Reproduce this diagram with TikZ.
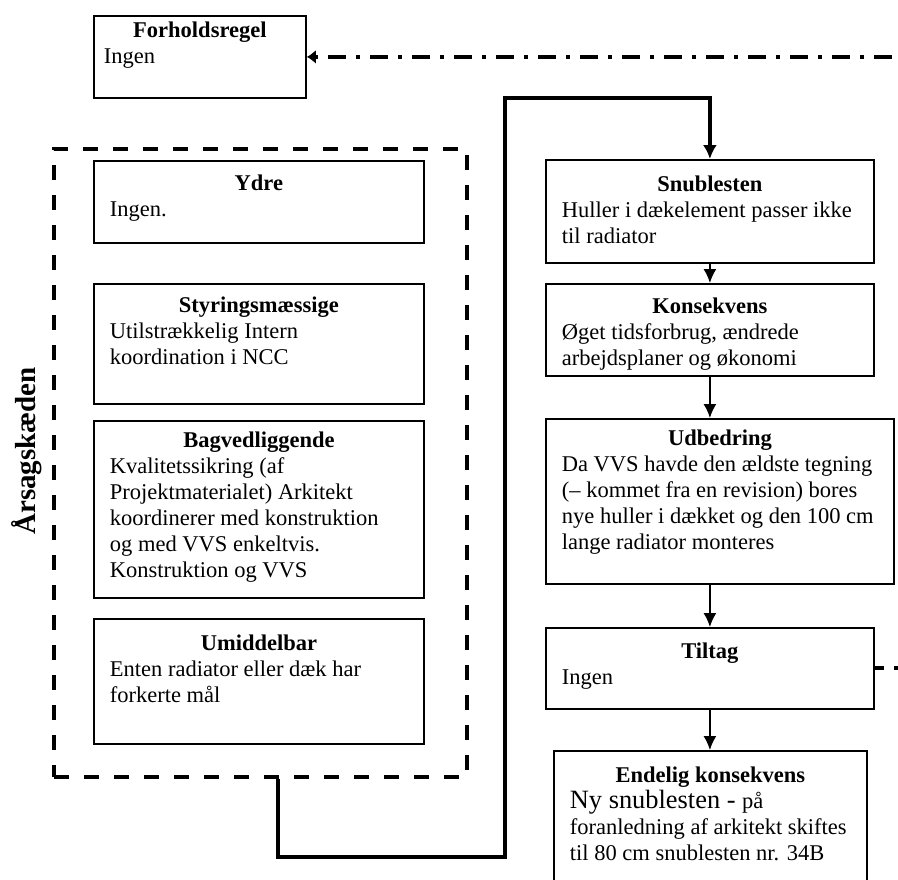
\documentclass[tikz,border=0pt]{standalone}
\usepackage{fontspec}
\setmainfont{Liberation Serif}
\usetikzlibrary{arrows.meta}

% title centred on top, text below it, fixed box height
\newcommand{\boxbody}[5][14.5pt]{%
  \parbox[t][#3][t]{#2}{\centering\rule{0pt}{#1}\textbf{#4}\par\raggedright #5}}

\begin{document}
\begin{tikzpicture}[x=0.5pt, y=-0.5pt,
    block/.style={draw, line width=0.9pt, anchor=north west, inner xsep=8pt, inner ysep=0pt,
      font=\fontsize{11.25}{13}\selectfont},
    chainbox/.style={draw, line width=2pt, dash pattern=on 7.5pt off 7.5pt, anchor=north west, inner sep=0pt},
    chain_label/.style={font=\fontsize{14.5}{17}\selectfont\bfseries, rotate=90},
    flow/.style={line width=0.8pt, -{Latex[length=7pt,width=6.5pt]}},
    link/.style={line width=2pt, -{Latex[length=7pt,width=7pt]}},
    feedback/.style={line width=2pt, dash pattern=on 9pt off 5pt on 2pt off 5pt,
      -{Latex[length=4.5pt,width=7pt]}}
]
    \useasboundingbox (0,0) rectangle (898,879);
    \node[block, inner xsep=5pt] (forhold) at (93,15) {\boxbody[11pt]{96pt}{41pt}{Forholdsregel}{Ingen}};
    % Aarsagskaeden
    \node[chainbox, minimum width=206.5pt, minimum height=314pt] (chain) at (52,147) {};
    \node[chain_label] (chainlabel) at (27,451) {Årsagskæden};
    \node[block] (ydre) at (93,160) {\boxbody[15pt]{149pt}{41pt}{Ydre}{Ingen.}};
    \node[block] (styr) at (93,283) {\boxbody{149pt}{60pt}{Styringsmæssige}{Utilstrækkelig Intern\\ koordination i NCC}};
    \node[block] (bagved) at (93,420) {\boxbody[13.5pt]{149pt}{88.5pt}{Bagvedliggende}{Kvalitetssikring (af\\ Projektmaterialet) Arkitekt\\ koordinerer med konstruktion\\ og med VVS enkeltvis.\\ Konstruktion og VVS}};
    \node[block] (umid) at (93,618) {\boxbody[16pt]{149pt}{62.5pt}{Umiddelbar}{Enten radiator eller dæk har\\ forkerte mål}};
    % Haendelsesforloeb
    \node[block] (snub) at (545,159) {\boxbody[16pt]{148pt}{51.5pt}{Snublesten}{Huller i dækelement passer ikke\\ til radiator}};
    \node[block] (kons) at (545,283) {\boxbody[15pt]{148pt}{46pt}{Konsekvens}{Øget tidsforbrug, ændrede\\ arbejdsplaner og økonomi}};
    \node[block] (udb) at (545,418) {\boxbody[13.5pt]{158pt}{82.5pt}{Udbedring}{Da VVS havde den ældste tegning\\ (– kommet fra en revision) bores\\ nye huller i dækket og den 100 cm\\ lange radiator monteres}};
    \node[block] (tilt) at (545,627) {\boxbody[15.5pt]{148pt}{40.5pt}{Tiltag}{Ingen}};
    \node[block] (endel) at (553,750) {\boxbody[16pt]{140.5pt}{70pt}{Endelig konsekvens}{{\fontsize{13.2}{15}\selectfont Ny snublesten - }på\\ foranledning af arkitekt skiftes\\ til 80 cm snublesten nr. 34B}};
    % Pile
    \draw[flow] (snub.south) -- (kons.north);
    \draw[flow] (kons.south) -- (kons.south |- udb.north);
    \draw[flow] (udb.south -| tilt.north) -- (tilt.north);
    \draw[flow] (tilt.south) -- (tilt.south |- endel.north);
    \draw[link] (278,0 |- chain.south) |- (505,857) |- (snub.north |- 0,98) -- (snub.north);
    \draw[feedback, dash phase=4.5pt] (tilt.east) -| (forhold.east -| 930,0) -- (forhold.east);
\end{tikzpicture}
\end{document}
